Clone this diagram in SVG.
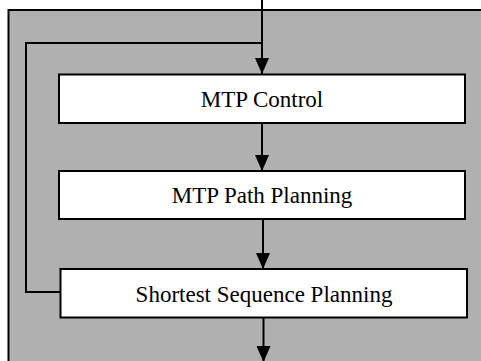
<svg xmlns="http://www.w3.org/2000/svg" width="481" height="361" viewBox="0 0 481 361">
<defs>
<style>
.box{fill:#ffffff;stroke:#000;stroke-width:2}
.lbl{font-family:"Liberation Serif","Times New Roman",serif;font-size:23px;fill:#000;text-anchor:middle}
.ln{fill:none;stroke:#000;stroke-width:2}
</style>
<marker id="ah" markerUnits="userSpaceOnUse" markerWidth="16" markerHeight="14" refX="16" refY="7" orient="auto" viewBox="0 0 16 14">
<path d="M0,0 L16,7 L0,14 Z" fill="#000"/>
</marker>
</defs>
<rect x="8.5" y="10" width="480" height="360" fill="#b0b0b0" stroke="#000" stroke-width="2"/>
<g id="connectors">
<line class="ln" x1="262" y1="0" x2="262" y2="74" marker-end="url(#ah)"/>
<polyline class="ln" points="60,292 26,292 26,43 262,43"/>
<line class="ln" x1="262" y1="123" x2="262" y2="171" marker-end="url(#ah)"/>
<line class="ln" x1="263" y1="219" x2="263" y2="269" marker-end="url(#ah)"/>
<line class="ln" x1="263.5" y1="318" x2="263.5" y2="362" marker-end="url(#ah)"/>
</g>
<g id="n1">
<rect class="box" x="59" y="74.5" width="406" height="48.5"/>
<text class="lbl" x="262" y="107.3">MTP Control</text>
</g>
<g id="n2">
<rect class="box" x="59" y="171" width="406" height="48"/>
<text class="lbl" x="262" y="202.7">MTP Path Planning</text>
</g>
<g id="n3">
<rect class="box" x="60.5" y="269" width="406.5" height="48.5"/>
<text class="lbl" x="264" y="301.5">Shortest Sequence Planning</text>
</g>
</svg>
